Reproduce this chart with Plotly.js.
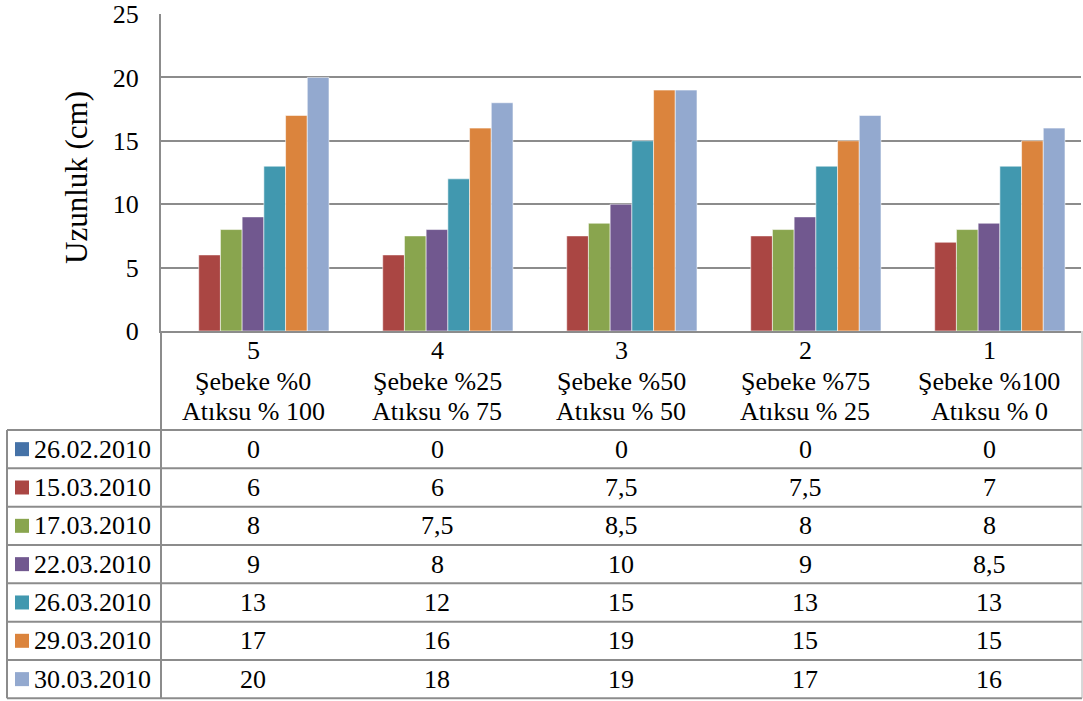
<!DOCTYPE html>
<html>
<head>
<meta charset="utf-8">
<script src="https://cdn.plot.ly/plotly-3.0.1.min.js"></script>
</head>
<body style="margin:0">
<div id="chart"></div>
<script>
// Treatment groups (x categories) and their two-line descriptions
const groups = ['5', '4', '3', '2', '1'];
const sebekeLabels = ['Şebeke %0', 'Şebeke %25', 'Şebeke %50', 'Şebeke %75', 'Şebeke %100'];
const atiksuLabels = ['Atıksu % 100', 'Atıksu % 75', 'Atıksu % 50', 'Atıksu % 25', 'Atıksu % 0'];

// Measurement dates (one series per date)
const dates = ['26.02.2010', '15.03.2010', '17.03.2010', '22.03.2010', '26.03.2010', '29.03.2010', '30.03.2010'];

// Length (cm) per group, for each date
const len_26_02 = [0, 0, 0, 0, 0];
const len_15_03 = [6, 6, 7.5, 7.5, 7];
const len_17_03 = [8, 7.5, 8.5, 8, 8];
const len_22_03 = [9, 8, 10, 9, 8.5];
const len_26_03 = [13, 12, 15, 13, 13];
const len_29_03 = [17, 16, 19, 15, 15];
const len_30_03 = [20, 18, 19, 17, 16];

const seriesValues = [len_26_02, len_15_03, len_17_03, len_22_03, len_26_03, len_29_03, len_30_03];
const seriesColors = ['#4572A7', '#AA4643', '#89A54E', '#71588F', '#4198AF', '#DB843D', '#93A9CF'];

// Page geometry (pixels)
const W = 1083, H = 701;
const plotLeft = 161, plotRight = 1081, plotTop = 14, plotBottom = 331;
const tableTop = 430, tableBottom = 698.3, tableLeft = 7, tableRight = 1082;
const rowH = (tableBottom - tableTop) / dates.length;

const px = x => x / W;
const py = y => 1 - y / H;

const FONT = 'Liberation Serif';
const GRID = '#8c8c8c';

const traces = seriesValues.map((vals, i) => ({
  type: 'bar',
  name: dates[i],
  x: groups,
  y: vals,
  marker: { color: seriesColors[i], line: { color: 'rgba(255,255,255,0.55)', width: 1 } },
  hoverinfo: 'y+name'
}));

const shapes = [];
const annotations = [];

// table grid lines
for (let r = 0; r <= dates.length; r++) {
  const y = tableTop + r * rowH;
  shapes.push({ type: 'line', xref: 'paper', yref: 'paper',
    x0: px(tableLeft), x1: px(tableRight), y0: py(y), y1: py(y),
    line: { color: GRID, width: 2 } });
}
shapes.push({ type: 'line', xref: 'paper', yref: 'paper',
  x0: px(tableLeft), x1: px(tableLeft), y0: py(tableTop), y1: py(tableBottom),
  line: { color: GRID, width: 2 } });
shapes.push({ type: 'line', xref: 'paper', yref: 'paper',
  x0: px(plotLeft), x1: px(plotLeft), y0: py(plotBottom), y1: py(tableBottom),
  line: { color: GRID, width: 2 } });
shapes.push({ type: 'line', xref: 'paper', yref: 'paper',
  x0: px(tableRight), x1: px(tableRight), y0: py(plotBottom), y1: py(tableBottom),
  line: { color: '#b0b0b0', width: 1 } });

// category labels under the axis (x given as category index)
groups.forEach((g, k) => {
  [[g, 350], [sebekeLabels[k], 381], [atiksuLabels[k], 411.5]].forEach(([t, y]) => {
    annotations.push({ xref: 'x', yref: 'paper', x: k, y: py(y), text: t,
      showarrow: false, xanchor: 'center', yanchor: 'middle',
      font: { family: FONT, size: 26, color: '#000' } });
  });
});

// table rows: legend key, date and values
const fmt = v => String(v).replace('.', ',');
dates.forEach((d, i) => {
  const yc = tableTop + (i + 0.5) * rowH;
  shapes.push({ type: 'rect', xref: 'paper', yref: 'paper',
    x0: px(15), x1: px(29), y0: py(yc - 7), y1: py(yc + 7),
    fillcolor: seriesColors[i], line: { width: 0 } });
  annotations.push({ xref: 'paper', yref: 'paper', x: px(32), y: py(yc), text: d,
    showarrow: false, xanchor: 'left', yanchor: 'middle',
    font: { family: FONT, size: 26, color: '#000' } });
  seriesValues[i].forEach((v, k) => {
    annotations.push({ xref: 'x', yref: 'paper', x: k, y: py(yc), text: fmt(v),
      showarrow: false, xanchor: 'center', yanchor: 'middle',
      font: { family: FONT, size: 26, color: '#000' } });
  });
});

// y axis title
annotations.push({ xref: 'paper', yref: 'paper', x: px(76), y: py(178), text: 'Uzunluk (cm)',
  textangle: -90, showarrow: false, xanchor: 'center', yanchor: 'middle',
  font: { family: FONT, size: 31, color: '#000' } });

const layout = {
  width: W, height: H,
  font: { family: FONT, size: 26, color: '#000' },
  margin: { l: 0, r: 0, t: 0, b: 0, pad: 0 },
  paper_bgcolor: '#fff', plot_bgcolor: '#fff',
  showlegend: false,
  barmode: 'group',
  bargap: 0.174,
  bargroupgap: 0,
  xaxis: {
    type: 'category',
    domain: [px(plotLeft), px(plotRight)],
    showticklabels: false,
    showgrid: false,
    showline: true, linecolor: GRID, linewidth: 2,
    ticks: ''
  },
  yaxis: {
    domain: [py(plotBottom), py(plotTop)],
    range: [0, 25], dtick: 5, tick0: 0,
    showgrid: true, gridcolor: GRID, gridwidth: 2,
    zeroline: false,
    showline: true, linecolor: GRID, linewidth: 2,
    ticks: '', ticklabelstandoff: 15,
    tickfont: { family: FONT, size: 26, color: '#000' }
  },
  shapes: shapes,
  annotations: annotations
};

Plotly.newPlot('chart', traces, layout, { displayModeBar: false });
</script>
</body>
</html>
